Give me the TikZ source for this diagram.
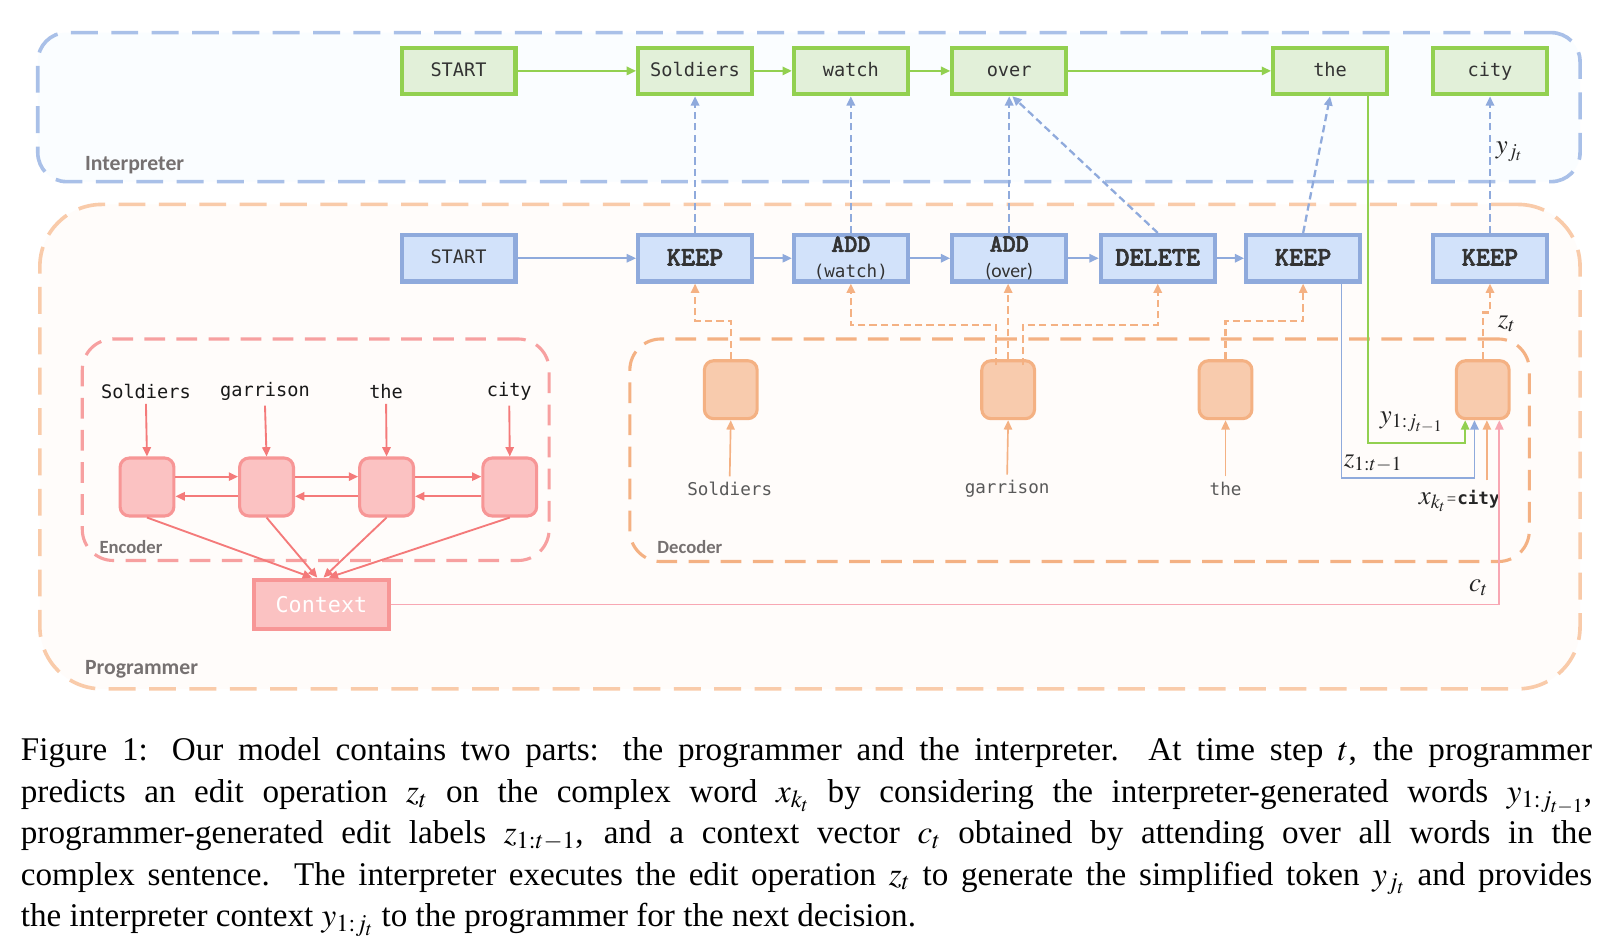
\documentclass[tikz,border=0pt]{standalone}
\usepackage{mathptmx}
\usepackage{fontspec}
\setmainfont{Liberation Serif}
\newfontfamily\dmono{DejaVu Sans Mono}
\newfontfamily\carl{Carlito}
\newfontfamily\kfont{lmmonolt10-bold.otf}[FakeBold=2.2]
\usetikzlibrary{arrows.meta,calc}
\definecolor{gbord}{HTML}{92D050}
\definecolor{gfill}{HTML}{E2F0D9}
\definecolor{bbord}{HTML}{8FAADC}
\definecolor{bfill}{HTML}{D2E2FA}
\definecolor{idash}{HTML}{A9C0E8}
\definecolor{ifill}{HTML}{FAFDFF}
\definecolor{pdash}{HTML}{F9CBAA}
\definecolor{pfill}{HTML}{FFFCFA}
\definecolor{odash}{HTML}{F4B183}
\definecolor{ofill}{HTML}{F8CBAD}
\definecolor{edash}{HTML}{F7A0A0}
\definecolor{efill}{HTML}{FBC2C2}
\definecolor{ebord}{HTML}{F79696}
\definecolor{earr}{HTML}{F47A7A}
\definecolor{pinkl}{HTML}{F8A7B3}
\definecolor{labgrey}{HTML}{767171}
\definecolor{txt}{HTML}{333333}
\begin{document}
\begin{tikzpicture}[x=1pt,y=-1pt,
  container/.style={line width=3.5pt, dash pattern=on 26pt off 13pt, inner sep=0pt},
  subbox/.style={line width=3pt, dash pattern=on 20pt off 11pt, inner sep=0pt, rounded corners=30pt},
  gbox/.style={draw=gbord, fill=gfill, line width=4pt, minimum width=110pt, minimum height=45pt, inner sep=0pt, text=txt, font=\dmono\fontsize{18}{20}\selectfont, text height=13pt, text depth=3pt},
  bbox/.style={draw=bbord, fill=bfill, line width=4pt, minimum width=110pt, minimum height=45pt, inner sep=0pt, text=txt, font=\kfont\fontsize{26}{28}\selectfont, text height=16pt, text depth=2pt},
  b2box/.style={draw=bbord, fill=bfill, line width=4pt, minimum width=110pt, minimum height=45pt, inner sep=0pt, text=txt, align=center, font=\fontsize{20}{25}\selectfont},
  dcell/.style={draw=odash, fill=ofill, line width=3pt, rounded corners=9pt, minimum width=51pt, minimum height=56pt, inner sep=0pt},
  ecell/.style={draw=ebord, fill=efill, line width=3pt, rounded corners=9pt, minimum width=52pt, minimum height=56pt, inner sep=0pt},
  partlab/.style={text=labgrey, font=\carl\bfseries\fontsize{21}{24}\selectfont, inner sep=0pt, anchor=base west},
  sublab/.style={text=labgrey, font=\carl\bfseries\fontsize{18}{20}\selectfont, inner sep=0pt, anchor=base west},
  ewords/.style={text=black!90, font=\dmono\fontsize{18}{20}\selectfont, inner sep=5pt},
  dwords/.style={text=black!65, font=\dmono\fontsize{17}{20}\selectfont, inner sep=5pt},
  mathlab/.style={text=black!85, font=\fontsize{26}{30}\selectfont, inner sep=0pt},
  tipg/.style={-{Triangle[length=9pt,width=8pt]}},
  garr/.style={tipg, draw=gbord, line width=2pt},
  barr/.style={tipg, draw=bbord, line width=2pt},
  bdarr/.style={tipg, draw=bbord, line width=2.2pt, dash pattern=on 7pt off 4pt},
  odarr/.style={tipg, draw=odash, line width=2.2pt, dash pattern=on 7pt off 4pt},
  oarr/.style={tipg, draw=odash, line width=1.6pt},
  earrow/.style={tipg, draw=earr, line width=1.8pt},
]
\fill[white] (0,0) rectangle (1568,910);
\useasboundingbox (0,0) rectangle (1568,910);

% containers
\node[container, draw=idash, fill=ifill, rounded corners=28pt, minimum width=1490pt, minimum height=144pt] (interp) at (781.5,103.5) {};
\node[container, draw=pdash, fill=pfill, rounded corners=60pt, minimum width=1488pt, minimum height=468pt] (prog) at (782.5,431.5) {};
\node[subbox, draw=edash, minimum width=451pt, minimum height=214pt] (enc) at (305,434.5) {};
\node[subbox, draw=odash, minimum width=869pt, minimum height=215pt] (dec) at (1043,435) {};

\node[partlab] (lint) at (82,165) {Interpreter};
\node[partlab] (lprog) at (82,652) {Programmer};
\node[sublab] (lenc) at (96,535) {Encoder};
\node[sublab] (ldec) at (635,535) {Decoder};

% interpreter row
\node[gbox] (gS) at (443,68.5) {START};
\node[gbox] (g1) at (671.5,68.5) {Soldiers};
\node[gbox] (g2) at (822,68.5) {watch};
\node[gbox] (g3) at (975,68.5) {over};
\node[gbox] (g4) at (1285,68.5) {the};
\node[gbox] (g5) at (1439.5,68.5) {city};

% programmer row
\node[bbox, font=\dmono\fontsize{18}{20}\selectfont, text height=13pt, text depth=3pt] (bS) at (443,249.5) {START};
\node[bbox] (b1) at (671.5,249.5) {KEEP};
\node[b2box] (b2) at (822,249.5) {{\kfont\fontsize{24}{25}\selectfont ADD}\\{\dmono\fontsize{17}{25}\selectfont (watch)}};
\node[b2box] (b3) at (975,249.5) {{\kfont\fontsize{24}{25}\selectfont ADD}\\{\carl\fontsize{19}{25}\selectfont (over)}};
\node[bbox] (b4) at (1118.5,249.5) {DELETE};
\node[bbox] (b5) at (1259,249.5) {KEEP};
\node[bbox] (b6) at (1439.5,249.5) {KEEP};

\draw[garr] (gS) -- (g1);
\draw[garr] (g1) -- (g2);
\draw[garr] (g2) -- (g3);
\draw[garr] (g3) -- (g4);

\draw[barr] (bS) -- (b1);
\draw[barr] (b1) -- (b2);
\draw[barr] (b2) -- (b3);
\draw[barr] (b3) -- (b4);
\draw[barr] (b4) -- (b5);

\draw[bdarr] (b1) -- (g1);
\draw[bdarr] (b2) -- (g2);
\draw[bdarr] (b3) -- (g3);
\draw[bdarr] (b4.north) -- ($(g3.south)+(3,0)$);
\draw[bdarr] (b5.north) -- (g4.south);
\draw[bdarr] (b6) -- (g5);
\node[mathlab, anchor=west] (lyj) at (1445,147) {$y_{j_t}$};

% decoder cells
\node[dcell] (d1) at (706,376.5) {};
\node[dcell] (d2) at (974,376.5) {};
\node[dcell] (d3) at (1184,376.5) {};
\node[dcell] (d4) at (1432.5,376.5) {};

\node[dwords] (dw1) at (705,472) {Soldiers};
\node[dwords] (dw2) at (973,472) {garrison};
\node[dwords] (dw3) at (1184,472) {the};
\draw[oarr] (dw1.north) -- (d1.south);
\draw[oarr] (dw2.north) -- (d2.south);
\draw[oarr] (dw3.north) -- (d3.south);

\coordinate (lvA) at (0,310);
\coordinate (lvB) at (0,314);
\coordinate (lvC) at (0,302);
\coordinate (d2l) at ($(d2.north)+(-12,6)$);
\coordinate (d2r) at ($(d2.north)+(14,6)$);
\draw[odarr] (d1.north) -- (d1.north |- lvA) -| (b1.south);
\draw[odarr] (d2l) -- (d2l |- lvB) -| (b2.south);
\draw[odarr] (d2.north) -- (d2.north |- b3.south);
\draw[odarr] (d2r) -- (d2r |- lvB) -| (b4.south);
\draw[odarr] (d3.north) -- (d3.north |- lvA) -| (b5.south);
\draw[odarr] (d4.north) -- (d4.north |- lvC) -| (b6.south);
\node[mathlab, anchor=west] (lzt) at (1447,313) {$z_t$};

% inputs to last decoder cell
\coordinate (din1) at ($(d4.south)+(-17,0)$);
\coordinate (din2) at ($(d4.south)+(-8,0)$);
\coordinate (din3) at ($(d4.south)+(4,0)$);
\coordinate (din4) at ($(d4.south)+(16,0)$);
\coordinate (hG) at (0,428);
\coordinate (hB) at (0,462);
\coordinate (gstart) at ($(g4.south)+(37,0)$);
\coordinate (bstart) at ($(b5.south)+(37,0)$);
\coordinate (ostart) at ($(din3)+(0,58)$);
\draw[garr, line width=1.8pt] (gstart) -- (gstart |- hG) -- (din1 |- hG) -- (din1);
\draw[barr, line width=1.8pt] (bstart) -- (bstart |- hB) -- (din2 |- hB) -- (din2);
\draw[oarr] (ostart) -- (din3);
\node[mathlab, anchor=west] (ly1) at (1333,408) {$y_{1:j_{t-1}}$};
\node[mathlab, anchor=west] (lz1) at (1298,448) {$z_{1:t-1}$};
\node[mathlab, anchor=east] (lxk) at (1449,484) {$x_{k_t}$\hspace{1pt}{\fontsize{16}{16}\selectfont =}\hspace{1pt}{\dmono\bfseries\fontsize{17}{18}\selectfont city}};

% encoder
\node[ecell] (e1) at (142,470.5) {};
\node[ecell] (e2) at (257.5,470.5) {};
\node[ecell] (e3) at (373.5,470.5) {};
\node[ecell] (e4) at (492.5,470.5) {};
\node[ewords] (w1) at (141,378) {Soldiers};
\node[ewords] (w2) at (256,378) {garrison};
\node[ewords] (w3) at (373,378) {the};
\node[ewords] (w4) at (492,378) {city};
\draw[earrow] (w1.south) -- (e1.north);
\draw[earrow] (w2.south) -- (e2.north);
\draw[earrow] (w3.south) -- (e3.north);
\draw[earrow] (w4.south) -- (e4.north);
\draw[earrow] ($(e1.east)+(0,-10)$) -- ($(e2.west)+(0,-10)$);
\draw[earrow] ($(e2.east)+(0,-10)$) -- ($(e3.west)+(0,-10)$);
\draw[earrow] ($(e3.east)+(0,-10)$) -- ($(e4.west)+(0,-10)$);
\draw[earrow] ($(e2.west)+(0,9)$) -- ($(e1.east)+(0,9)$);
\draw[earrow] ($(e3.west)+(0,9)$) -- ($(e2.east)+(0,9)$);
\draw[earrow] ($(e4.west)+(0,9)$) -- ($(e3.east)+(0,9)$);

\node[draw=ebord, fill=efill, line width=4pt, minimum width=131pt, minimum height=48pt, inner sep=0pt, text=white, font=\dmono\fontsize{21}{22}\selectfont] (ctx) at (310.5,584) {Context};
\draw[earrow] (e1.south) -- ($(ctx.north)+(-9,0)$);
\draw[earrow] (e2.south) -- ($(ctx.north)+(-4,0)$);
\draw[earrow] (e3.south) -- ($(ctx.north)+(2,0)$);
\draw[earrow] (e4.south) -- ($(ctx.north)+(7,0)$);

\draw[tipg, draw=pinkl, line width=1.8pt] (ctx.east) -- (din4 |- ctx.east) -- (din4);
\node[mathlab, anchor=west] (lct) at (1419,568) {$c_t$};

% caption
\node[anchor=base west, inner sep=0pt, text width=1518pt, align=justify, font=\fontsize{32}{40}\selectfont] (cap) at (20,735) {\hyphenpenalty=10000\hbadness=10000
Figure 1: Our model contains two parts: the programmer and the interpreter.\ \ At time step $t$, the programmer\linebreak
predicts an edit operation $z_t$ on the complex word $x_{k_t}$ by considering the interpreter-generated words $y_{1:j_{t-1}}$,\linebreak
programmer-generated edit labels $z_{1:t-1}$, and a context vector $c_t$ obtained by attending over all words in the\linebreak
complex sentence. The interpreter executes the edit operation $z_t$ to generate the simplified token $y_{j_t}$ and provides\linebreak
the interpreter context $y_{1:j_t}$ to the programmer for the next decision.};
\end{tikzpicture}
\end{document}
